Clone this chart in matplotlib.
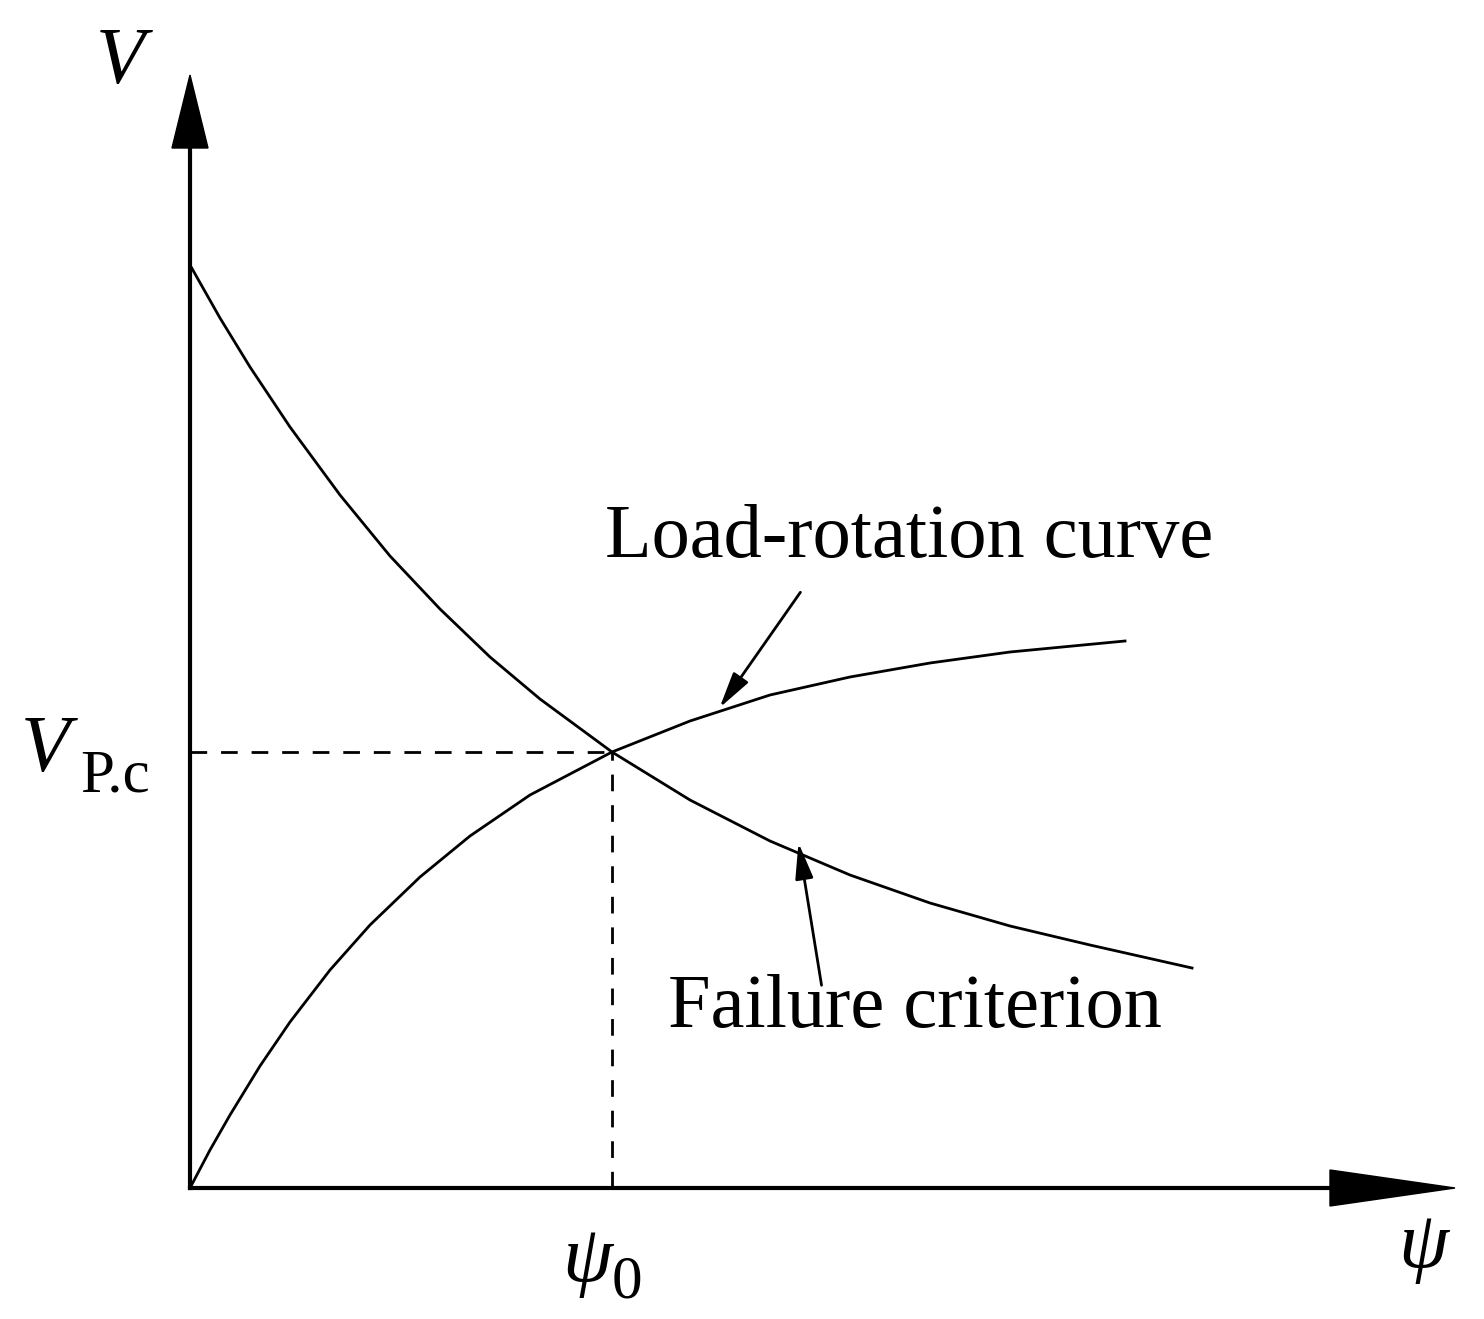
import matplotlib.pyplot as plt
from matplotlib.patches import Polygon

plt.rcParams['font.family'] = ['Liberation Serif', 'DejaVu Serif']
plt.rcParams['mathtext.fontset'] = 'custom'
plt.rcParams['mathtext.it'] = 'Liberation Serif:italic'
plt.rcParams['mathtext.rm'] = 'Liberation Serif'

# failure criterion curve (psi, V), arbitrary units
fail_psi = [0, 30, 60, 100, 150, 200, 250, 300, 350, 422, 500, 580, 660, 740, 820, 900, 1002]
fail_v = [923, 870, 821, 761, 693, 632, 579, 531, 489, 436, 388, 347, 313, 285, 262, 243, 220]
# load-rotation curve
load_psi = [0, 20, 40, 70, 100, 140, 180, 230, 280, 340, 422, 500, 580, 660, 740, 820, 935]
load_v = [0, 38, 73, 122, 166, 218, 263, 311, 352, 393, 436, 467, 493, 511, 525, 536, 547]

psi0, vpc = 422, 436

fig = plt.figure(figsize=(14.84, 13.19), dpi=100)
ax = fig.add_axes([0, 0, 1, 1])
ax.set_xlim(-190, 1294)
ax.set_ylim(-131, 1188)
ax.axis('off')

ax.plot(fail_psi, fail_v, color='black', lw=2, solid_joinstyle='round')
ax.plot(load_psi, load_v, color='black', lw=2, solid_joinstyle='round')

# axes with arrows
ax.plot([0, 1160], [0, 0], color='black', lw=3)
ax.plot([0, 0], [0, 1060], color='black', lw=3)
ax.add_patch(Polygon([[1140, 18], [1140, -18], [1265, 0]], closed=True, color='black'))
ax.add_patch(Polygon([[-18, 1040], [18, 1040], [0, 1113]], closed=True, color='black'))

# dashed guides
ax.plot([0, psi0], [vpc, vpc], color='black', lw=2, ls=(0, (6, 5)))
ax.plot([psi0, psi0], [0, vpc], color='black', lw=2, ls=(0, (6, 5)))

# annotations
arrowprops = dict(arrowstyle='-|>,head_length=2.2,head_width=0.55', color='black', lw=2)
ax.annotate('', xy=(528, 478), xytext=(612, 598), arrowprops=arrowprops)
ax.annotate('', xy=(608, 348), xytext=(632, 200), arrowprops=arrowprops)
ax.text(415, 615, 'Load-rotation curve', fontsize=55, va='bottom', ha='left')
ax.text(478, 145, 'Failure criterion', fontsize=55, va='bottom', ha='left')

ax.text(-95, 1125, '$V$', fontsize=58, ha='left', va='center')
ax.text(-170, vpc, r'$V$', fontsize=58, ha='left', va='center')
ax.text(-110, vpc - 25, 'P.c', fontsize=44, ha='left', va='center')
ax.text(psi0 - 50, -75, r'$\psi$', fontsize=58, ha='left', va='center')
ax.text(psi0, -95, '0', fontsize=44, ha='left', va='center')
ax.text(1208, -62, r'$\psi$', fontsize=58, ha='left', va='center')

fig.savefig('out.png', dpi=100)
